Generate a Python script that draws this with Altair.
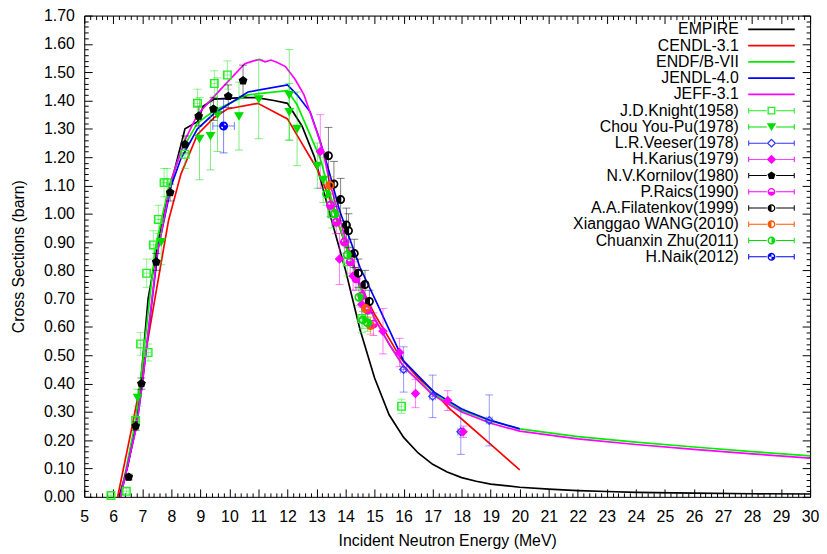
import altair as alt
import pandas as pd

W, H = 733, 486
FONT = "Liberation Sans"

# ---------------- evaluated curves ----------------
series_lines = ["EMPIRE", "CENDL-3.1", "ENDF/B-VII", "JENDL-4.0", "JEFF-3.1"]

empire_e = [6.2, 6.5, 6.77, 6.95, 7.2, 7.48, 7.65, 7.9, 8.47, 8.9, 9.1, 9.48, 10.43, 10.93, 11.53, 12.0, 12.5, 12.93, 13.43,
            14.0, 14.5, 15.0, 15.5, 16.0, 16.5, 17.0, 17.5, 18.0, 18.5, 19.0, 20.0, 21.0, 22.0, 23.0, 24.0, 26.0, 28.0, 30.0]
empire_xs = [0.0, 0.11, 0.25, 0.41, 0.70, 0.86, 0.96, 1.07, 1.30, 1.325, 1.38, 1.405, 1.41, 1.41, 1.40, 1.39, 1.31, 1.20, 1.01,
             0.80, 0.59, 0.42, 0.29, 0.21, 0.155, 0.115, 0.088, 0.068, 0.055, 0.045, 0.034, 0.027, 0.022, 0.019, 0.016, 0.013, 0.011, 0.010]

cendl_e = [6.15, 6.65, 6.9, 7.4, 7.9, 8.33, 8.9, 9.48, 9.93, 10.98, 12.0, 12.43, 13.01, 13.43, 14.0, 14.5, 15.0, 15.5, 15.9,
           16.5, 17.0, 17.6, 18.0, 19.0, 20.0]
cendl_xs = [0.0, 0.25, 0.38, 0.68, 0.975, 1.14, 1.28, 1.34, 1.37, 1.39, 1.335, 1.26, 1.16, 1.06, 0.89, 0.75, 0.645, 0.56, 0.49,
            0.42, 0.375, 0.31, 0.275, 0.185, 0.095]

endf_e = [6.25, 6.77, 6.95, 7.45, 7.9, 8.33, 8.9, 9.48, 10.64, 12.0, 12.33, 13.13, 13.6, 14.0, 14.5, 15.0, 15.5, 16.0, 17.0,
          18.0, 19.0, 20.0, 22.0, 24.0, 26.0, 28.0, 30.0]
endf_xs = [0.0, 0.27, 0.42, 0.88, 1.09, 1.22, 1.32, 1.365, 1.42, 1.435, 1.385, 1.195, 1.02, 0.89, 0.74, 0.63, 0.54, 0.46, 0.365,
           0.305, 0.268, 0.24, 0.213, 0.193, 0.176, 0.16, 0.145]

jendl_e = [6.25, 6.8, 7.0, 7.55, 8.0, 8.33, 8.9, 9.48, 10.64, 12.0, 12.33, 12.78, 13.13, 13.43, 13.8, 14.5, 15.1, 16.0, 17.05,
           18.0, 19.0, 20.0]
jendl_xs = [0.0, 0.25, 0.40, 0.88, 1.10, 1.195, 1.30, 1.355, 1.43, 1.455, 1.42, 1.36, 1.255, 1.15, 1.01, 0.81, 0.68, 0.48, 0.37,
            0.31, 0.27, 0.24]

jeff_e = [6.25, 6.8, 7.0, 7.5, 8.0, 8.47, 8.9, 9.25, 9.93, 10.53, 10.83, 11.03, 11.23, 11.43, 11.63, 11.93, 12.26, 12.57, 13.01,
          13.23, 13.43, 14.0, 14.5, 15.0, 15.5, 16.0, 17.0, 18.0, 19.0, 20.0, 22.0, 24.0, 26.0, 28.0, 30.0]
jeff_xs = [0.0, 0.25, 0.40, 0.85, 1.12, 1.26, 1.35, 1.39, 1.465, 1.53, 1.54, 1.545, 1.537, 1.543, 1.535, 1.52, 1.475, 1.42, 1.29,
           1.22, 1.12, 0.91, 0.75, 0.63, 0.54, 0.46, 0.36, 0.30, 0.26, 0.232, 0.205, 0.185, 0.168, 0.152, 0.137]

# ---------------- measurements ----------------
series_exp = ["J.D.Knight(1958)", "Chou You-Pu(1978)", "L.R.Veeser(1978)", "H.Karius(1979)", "N.V.Kornilov(1980)",
              "P.Raics(1990)", "A.A.Filatenkov(1999)", "Xianggao WANG(2010)", "Chuanxin Zhu(2011)", "H.Naik(2012)"]

knight_e = [5.92, 6.45, 6.77, 6.94, 7.2, 7.15, 7.38, 7.55, 7.75, 7.85, 8.47, 8.9, 9.48, 9.93, 13.53, 14.06, 14.56, 15.93]
knight_xs = [0.005, 0.02, 0.27, 0.54, 0.51, 0.79, 0.89, 0.98, 1.11, 1.11, 1.21, 1.39, 1.46, 1.49, 1.0, 0.83, 0.63, 0.32]
knight_err = [0.01, 0.01, 0.02, 0.04, 0.03, 0.05, 0.05, 0.05, 0.05, 0.05, 0.05, 0.05, 0.045, 0.05, 0.05, 0.05, 0.05, 0.025]
knight_xerr = [0.1] * 18

chou_e = [6.84, 7.65, 8.97, 9.35, 9.59, 10.33, 11.01, 12.06, 12.06, 12.33, 13.03, 13.23]
chou_xs = [0.35, 0.90, 1.265, 1.275, 1.35, 1.345, 1.405, 1.42, 1.36, 1.30, 1.17, 1.12]
chou_err = [0.03, 0.08, 0.145, 0.12, 0.13, 0.12, 0.14, 0.16, 0.10, 0.13, 0.08, 0.08]

veeser_e = [16.0, 17.0, 17.97, 18.95]
veeser_xs = [0.45, 0.355, 0.23, 0.27]
veeser_err = [0.08, 0.075, 0.08, 0.09]
veeser_xerr = [0.1, 0.1, 0.1, 0.1]

karius_e = [13.13, 13.79, 14.26, 14.56, 15.29, 15.86, 16.41, 17.52, 18.05]
karius_xs = [1.22, 0.84, 0.78, 0.68, 0.585, 0.51, 0.365, 0.34, 0.23]
karius_err = [0.13, 0.09, 0.05, 0.05, 0.08, 0.05, 0.05, 0.035, 0.02]

kornilov_e = [6.53, 6.77, 6.97, 7.48, 7.96, 8.47, 8.94, 9.45, 9.96, 10.47]
kornilov_xs = [0.07, 0.25, 0.40, 0.83, 1.075, 1.245, 1.345, 1.37, 1.415, 1.47]
kornilov_err = [0.01, 0.015, 0.02, 0.03, 0.03, 0.03, 0.035, 0.04, 0.04, 0.055]

raics_e = [13.48, 13.68, 13.96, 14.16, 14.36, 14.56, 14.76, 14.96]
raics_xs = [1.03, 0.97, 0.90, 0.83, 0.77, 0.71, 0.66, 0.61]
raics_err = [0.04, 0.04, 0.04, 0.04, 0.04, 0.04, 0.04, 0.04]

filat_e = [13.41, 13.6, 13.83, 14.03, 14.1, 14.3, 14.44, 14.67, 14.82]
filat_xs = [1.205, 1.105, 1.05, 0.96, 0.94, 0.86, 0.79, 0.75, 0.69]
filat_err = [0.10, 0.08, 0.075, 0.06, 0.06, 0.05, 0.05, 0.05, 0.04]

wang_e = [13.46, 14.69, 14.86]
wang_xs = [1.10, 0.665, 0.605]
wang_err = [0.03, 0.03, 0.03]

zhu_e = [13.35, 13.63, 14.06, 14.46, 14.6, 14.76]
zhu_xs = [1.07, 1.0, 0.855, 0.705, 0.625, 0.615]
zhu_err = [0.04, 0.04, 0.03, 0.03, 0.03, 0.03]

naik_e = [9.8]
naik_xs = [1.31]
naik_err = [0.095]
naik_xerr = [0.37]

# ---------------- styling tables ----------------
all_series = series_lines + series_exp
colors = ["#000000", "#ff0000", "#00ee00", "#0000ff", "#ff00ff",
          "#22ee22", "#00dd00", "#3333ff", "#ff00ff", "#000000",
          "#ff00ff", "#000000", "#ff5500", "#00dd00", "#0000ff"]

x_ticks = list(range(5, 31))
x_minor = [round(5 + i * 0.2, 2) for i in range(126) if i % 5 != 0]
y_ticks = [0.0, 0.1, 0.2, 0.3, 0.4, 0.5, 0.6, 0.7, 0.8, 0.9, 1.0, 1.1, 1.2, 1.3, 1.4, 1.5, 1.6, 1.7]
y_minor = [round(i * 0.02, 2) for i in range(86) if i % 5 != 0]


def circ(r, s):
    return f"M{-r},0A{r},{r} 0 1,{s} {r},0A{r},{r} 0 1,{s} {-r},0Z"


def ring(r, ri):
    return circ(r, 1) + circ(ri, 0)


def half(ri, side):
    if side == "left":
        return f"M0,{-ri}A{ri},{ri} 0 0,0 0,{ri}Z"
    if side == "right":
        return f"M0,{-ri}A{ri},{ri} 0 0,1 0,{ri}Z"
    if side == "bottom":
        return f"M{-ri},0A{ri},{ri} 0 0,0 {ri},0Z"
    return f"M0,0L0,{-ri}A{ri},{ri} 0 0,0 {-ri},0ZM0,0L0,{ri}A{ri},{ri} 0 0,0 {ri},0Z"


def pent(r):
    return (f"M0,{-r}L{0.95*r:.3f},{-0.31*r:.3f}L{0.59*r:.3f},{0.81*r:.3f}"
            f"L{-0.59*r:.3f},{0.81*r:.3f}L{-0.95*r:.3f},{-0.31*r:.3f}Z")


half_sides = {"P.Raics(1990)": "bottom", "A.A.Filatenkov(1999)": "left", "Xianggao WANG(2010)": "left",
              "Chuanxin Zhu(2011)": "right", "H.Naik(2012)": "quarters"}

# plot markers (stroked, unit radius)
pt_shapes = ["square", "triangle-down", "diamond", "diamond", pent(1.0)] + [
    ring(1, 0.9) + half(0.9, half_sides[s]) for s in series_exp[5:]]
pt_fills = ["transparent", "#00dd00", "transparent", "#ff00ff", "#000000",
            "#ff00ff", "#000000", "#ff5500", "#00dd00", "#0000ff"]


# legend symbols: pure filled outlines (no stroke needed)
def rect(x1, y1, x2, y2):
    return f"M{x1},{y1}H{x2}V{y2}H{x1}Z"


leg_line = rect(-4.7, -0.17, 4.7, 0.17)
bar = (rect(-4.7, -0.1, -0.95, 0.1) + rect(0.95, -0.1, 4.7, 0.1) +
       rect(-4.7, -0.55, -4.5, 0.55) + rect(4.5, -0.55, 4.7, 0.55))
r = 0.8
t = 0.26
leg_markers = [
    rect(-r, -r, r, r) + f"M{-r+t},{-r+t}V{r-t}H{r-t}V{-r+t}Z",
    "M-0.95,-0.75H0.95L0,0.85Z",
    "M0,-0.95L0.95,0L0,0.95L-0.95,0ZM0,-0.6L-0.6,0L0,0.6L0.6,0Z",
    "M0,-0.95L0.95,0L0,0.95L-0.95,0Z",
    pent(0.85),
] + [ring(r, round(r - t, 3)) + half(round(r - t, 3), half_sides[s]) for s in series_exp[5:]]
leg_paths = [leg_line] * 5 + [bar + m for m in leg_markers]

# ---------------- tables ----------------
curve_rows = []
for name, es, vs in zip(series_lines, [empire_e, cendl_e, endf_e, jendl_e, jeff_e],
                        [empire_xs, cendl_xs, endf_xs, jendl_xs, jeff_xs]):
    for i, (e, v) in enumerate(zip(es, vs)):
        curve_rows.append({"series": name, "E": e, "xs": v, "order": i})
curves = pd.DataFrame(curve_rows)

exp_sets = [
    (knight_e, knight_xs, knight_err, knight_xerr),
    (chou_e, chou_xs, chou_err, None),
    (veeser_e, veeser_xs, veeser_err, veeser_xerr),
    (karius_e, karius_xs, karius_err, None),
    (kornilov_e, kornilov_xs, kornilov_err, None),
    (raics_e, raics_xs, raics_err, None),
    (filat_e, filat_xs, filat_err, None),
    (wang_e, wang_xs, wang_err, None),
    (zhu_e, zhu_xs, zhu_err, None),
    (naik_e, naik_xs, naik_err, naik_xerr),
]
exp_rows, ycaps, xbars, xcaps = [], [], [], []
for name, (es, vs, er, xer) in zip(series_exp, exp_sets):
    for i, (e, v, d) in enumerate(zip(es, vs, er)):
        exp_rows.append({"series": name, "E": e, "xs": v, "lo": max(v - d, 0), "hi": v + d})
        ycaps.append({"series": name, "E": e, "yc": max(v - d, 0)})
        ycaps.append({"series": name, "E": e, "yc": v + d})
        if xer is not None:
            xbars.append({"series": name, "xs": v, "xlo": e - xer[i], "xhi": e + xer[i]})
            xcaps.append({"series": name, "xs": v, "xc": e - xer[i]})
            xcaps.append({"series": name, "xs": v, "xc": e + xer[i]})
exp = pd.DataFrame(exp_rows)
ycaps = pd.DataFrame(ycaps)
xbars = pd.DataFrame(xbars)
xcaps = pd.DataFrame(xcaps)
legend_df = pd.DataFrame({"series": all_series})

# ---------------- chart ----------------
xsc = alt.Scale(domain=[5, 30], nice=False, zero=False)
ysc = alt.Scale(domain=[0, 1.7], nice=False, zero=False)
csc = alt.Scale(domain=all_series, range=colors)
col = alt.Color("series:N", scale=csc, legend=None)

lines = alt.Chart(curves).mark_line(strokeWidth=1.7).encode(
    x=alt.X("E:Q", scale=xsc, axis=None), y=alt.Y("xs:Q", scale=ysc, axis=None),
    color=col, order="order:Q")

ybars_l = alt.Chart(exp).mark_rule(strokeWidth=1, opacity=0.5).encode(
    x=alt.X("E:Q", scale=xsc, axis=None), y=alt.Y("lo:Q", scale=ysc, axis=None), y2="hi:Q", color=col)
ycaps_l = alt.Chart(ycaps).mark_point(shape="M-1,0H1", size=64, strokeWidth=1, opacity=0.5).encode(
    x=alt.X("E:Q", scale=xsc, axis=None), y=alt.Y("yc:Q", scale=ysc, axis=None), color=col)
xbars_l = alt.Chart(xbars).mark_rule(strokeWidth=1, opacity=0.5).encode(
    x=alt.X("xlo:Q", scale=xsc, axis=None), x2="xhi:Q", y=alt.Y("xs:Q", scale=ysc, axis=None), color=col)
xcaps_l = alt.Chart(xcaps).mark_point(shape="M0,-1V1", size=64, strokeWidth=1, opacity=0.5).encode(
    x=alt.X("xc:Q", scale=xsc, axis=None), y=alt.Y("xs:Q", scale=ysc, axis=None), color=col)

points = alt.Chart(exp).mark_point(size=60, strokeWidth=1.3, filled=False, opacity=1).encode(
    x=alt.X("E:Q", scale=xsc, axis=None), y=alt.Y("xs:Q", scale=ysc, axis=None), color=col,
    shape=alt.Shape("series:N", scale=alt.Scale(domain=series_exp, range=pt_shapes), legend=None),
    fill=alt.Fill("series:N", scale=alt.Scale(domain=series_exp, range=pt_fills), legend=None))

leg = alt.Legend(orient="none", legendX=686, legendY=6, title=None, padding=0, rowPadding=0.4,
                 labelAlign="right", labelOffset={"expr": "-41"}, labelFont=FONT, labelFontSize=16,
                 labelColor="black", labelLimit=300, symbolSize=100, symbolStrokeWidth=0, symbolOpacity=1,
                 symbolFillColor={"expr": "scale('color', datum.value)"})
legend_l = alt.Chart(legend_df).mark_point(filled=True, opacity=1).encode(
    color=alt.Color("series:N", scale=csc, legend=leg),
    shape=alt.Shape("series:N", scale=alt.Scale(domain=all_series, range=leg_paths), legend=leg),
).transform_filter("false")


def axis_layer(xaxis, yaxis):
    return alt.Chart(curves).mark_point(opacity=0).encode(
        x=alt.X("E:Q", scale=xsc, axis=xaxis), y=alt.Y("xs:Q", scale=ysc, axis=yaxis))


# inward major/minor ticks on all four sides are drawn as dashed grid lines
x_main = alt.Axis(orient="bottom", values=x_ticks, format="d", ticks=False, tickSize=0, labelPadding=12,
                  labelFont=FONT, labelFontSize=16, labelColor="black", labelFlush=False, labelOverlap=False,
                  domain=True, domainColor="black", domainWidth=1,
                  grid=True, gridColor="black", gridOpacity=1, gridWidth=1, gridDash=[8, H - 16],
                  title="Incident Neutron Energy (MeV)", titleFont=FONT, titleFontSize=16,
                  titleFontWeight="normal", titleColor="black", titlePadding=8)
y_main = alt.Axis(orient="left", values=y_ticks, format=".2f", ticks=False, tickSize=0, labelPadding=10,
                  labelFont=FONT, labelFontSize=16, labelColor="black", labelFlush=False, labelOverlap=False,
                  domain=True, domainColor="black", domainWidth=1,
                  grid=True, gridColor="black", gridOpacity=1, gridWidth=1, gridDash=[8, W - 16],
                  title="Cross Sections (barn)", titleFont=FONT, titleFontSize=16,
                  titleFontWeight="normal", titleColor="black", titlePadding=17)
x_top = alt.Axis(orient="top", values=x_minor, labels=False, ticks=False, tickSize=0, title=None,
                 domain=True, domainColor="black", domainWidth=1,
                 grid=True, gridColor="black", gridOpacity=1, gridWidth=1, gridDash=[4, H - 8])
y_right = alt.Axis(orient="right", values=y_minor, labels=False, ticks=False, tickSize=0, title=None,
                   domain=True, domainColor="black", domainWidth=1,
                   grid=True, gridColor="black", gridOpacity=1, gridWidth=1, gridDash=[4, W - 8])

layers = [
    axis_layer(x_main, y_main),
    axis_layer(x_top, y_right),
    lines, ybars_l, ycaps_l, xbars_l, xcaps_l, points, legend_l,
]

chart = alt.layer(*layers).resolve_scale(shape="independent", fill="independent").resolve_axis(
    x="independent", y="independent").properties(
    width=W, height=H, padding={"left": 77, "top": 5, "right": 9, "bottom": 50},
    autosize=alt.AutoSizeParams(type="none")).configure_view(stroke=None).configure(font=FONT)

chart.save("out.html", embed_options={"renderer": "svg", "actions": False})
